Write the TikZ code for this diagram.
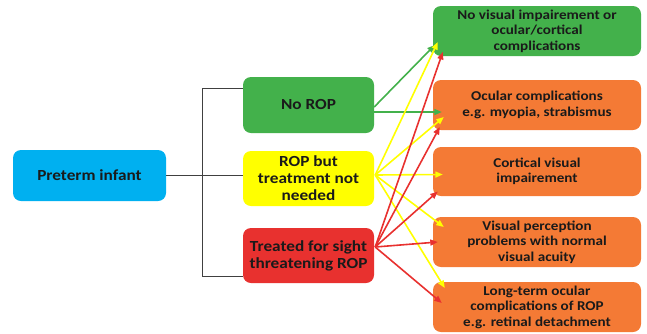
\documentclass[tikz,border=0pt]{standalone}
\usepackage{fontspec}
\setmainfont{Carlito}[FakeStretch=1.12]
\usetikzlibrary{arrows.meta}
\definecolor{cblue}{HTML}{00B0F0}
\definecolor{cgreen}{HTML}{43B14B}
\definecolor{cyellow}{HTML}{FFFF00}
\definecolor{cred}{HTML}{E8312F}
\definecolor{corange}{HTML}{F47A35}
\definecolor{ctext}{HTML}{1A1A1A}
\definecolor{ctree}{HTML}{404040}
\tikzset{
  box/.style={rounded corners=8pt, inner sep=2pt, align=center, text=ctext,
    font=\fontsize{13.5}{15.5}\selectfont\bfseries},
  bigbox/.style={box, font=\fontsize{15.4}{17}\selectfont\bfseries},
  tree/.style={draw=ctree, line width=0.9pt},
  arr/.style={line width=1.6pt, -{Triangle[length=7.5pt,width=6pt]}},
}
\begin{document}
\begin{tikzpicture}[x=1pt,y=-1pt]
\useasboundingbox (0,0) rectangle (647,333);
% left
\node[bigbox, fill=cblue, minimum width=153pt, minimum height=51pt] (pre) at (89.5,175.5) {Preterm infant};
% middle
\node[bigbox, fill=cgreen, minimum width=131pt, minimum height=56pt] (nr) at (308.5,105) {No ROP};
\node[bigbox, fill=cyellow, minimum width=131pt, minimum height=55pt] (yb) at (308.5,178.5) {ROP but\\treatment not\\needed};
\node[bigbox, fill=cred, minimum width=131pt, minimum height=55pt] (tr) at (308.5,255.5) {Treated for sight\\threatening ROP};
% right
\node[box, fill=cgreen, minimum width=208pt, minimum height=50pt] (r1) at (537,31) {No visual impairement or\\ocular/cortical\\complications};
\node[box, fill=corange, minimum width=208pt, minimum height=50pt] (r2) at (537,105) {Ocular complications\\e.g. myopia, strabismus};
\node[box, fill=corange, minimum width=208pt, minimum height=49pt] (r3) at (537,171.5) {Cortical visual\\impairement};
\node[box, fill=corange, minimum width=208pt, minimum height=50pt] (r4) at (537,242) {Visual perception\\problems with normal\\visual acuity};
\node[box, fill=corange, minimum width=208pt, minimum height=50pt] (r5) at (537,307) {Long-term ocular\\complications of ROP\\e.g. retinal detachment};
% tree
\coordinate (jt) at (202,88);
\coordinate (jb) at (202,276);
\draw[tree] (jt) -- (jb);
\draw[tree] (pre.east) -- (pre.east -| yb.west);
\draw[tree] (jt) -- (jt -| nr.west);
\draw[tree] (jb) -- (jb -| tr.west);
% arrows from No ROP
\draw[arr, cgreen] ([yshift=-2pt]nr.east) -- ([shift={(2,14)}]r1.west);
\draw[arr, cgreen] ([yshift=-7pt]nr.east) -- ([shift={(9,7)}]r2.west);
% arrows from ROP not needed
\coordinate (ys) at ([shift={(1,-3.5)}]yb.east);
\draw[arr, cyellow] (ys) -- ([shift={(5,11)}]r1.west);
\draw[arr, cyellow] (ys) -- ([shift={(11,12)}]r2.west);
\draw[arr, cyellow] (ys) -- ([shift={(10,3)}]r3.west);
\draw[arr, cyellow] (ys) -- ([shift={(11,-15)}]r4.west);
\draw[arr, cyellow] (ys) -- ([shift={(12,-19)}]r5.west);
% arrows from treated
\coordinate (rs) at ([shift={(1,-8.5)}]tr.east);
\draw[arr, cred] (rs) -- ([shift={(10,21)}]r1.west);
\draw[arr, cred] (rs) -- ([shift={(7,22)}]r2.west);
\draw[arr, cred] (rs) -- ([shift={(5,20)}]r3.west);
\draw[arr, cred] (rs) -- ([shift={(5,0)}]r4.west);
\draw[arr, cred] (rs) -- ([shift={(9,-4)}]r5.west);
\end{tikzpicture}
\end{document}
